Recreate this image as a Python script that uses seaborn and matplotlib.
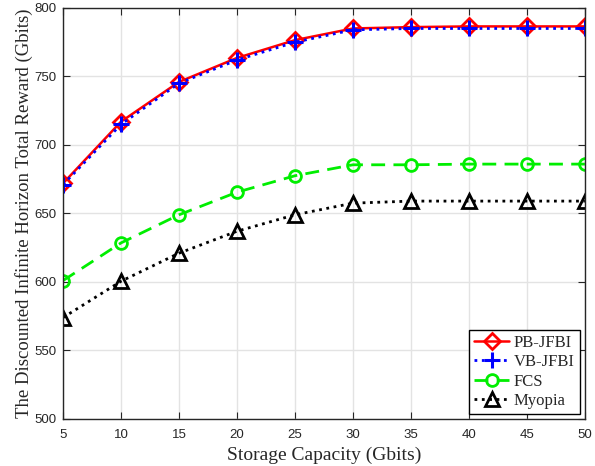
import matplotlib
matplotlib.use("Agg")
import matplotlib.pyplot as plt
import seaborn as sns
import pandas as pd

capacity = [5, 10, 15, 20, 25, 30, 35, 40, 45, 50]
pb_jfbi = [672, 717, 746, 763.5, 776.5, 785, 786, 786.5, 786.5, 786.5]
vb_jfbi = [671, 715, 745, 762, 775, 784, 785, 785, 785, 785]
fcs = [601, 628.5, 649, 665.5, 677.5, 685.5, 685.5, 686, 686, 686]
myopia = [574, 600.5, 621, 637, 649, 657.5, 659, 659, 659, 659]

series_names = ["PB-JFBI", "VB-JFBI", "FCS", "Myopia"]
series_vals = [pb_jfbi, vb_jfbi, fcs, myopia]

rows = []
for name, vals in zip(series_names, series_vals):
    for x, y in zip(capacity, vals):
        rows.append({"Capacity": x, "Reward": y, "Scheme": name})
df = pd.DataFrame(rows)

sns.set_style("whitegrid")
plt.rcParams["font.family"] = ["Liberation Sans", "DejaVu Sans"]

fig = plt.figure(figsize=(5.95, 4.66), dpi=100)
ax = fig.add_axes([0.106, 0.101, 0.877, 0.882])

styles = {
    "PB-JFBI": dict(color="#ff0000", ls="-", marker="D", ms=8, mfc="none", mew=2, lw=1.8),
    "VB-JFBI": dict(color="#0000ff", ls=":", marker="+", ms=11, mfc="none", mew=2.2, lw=2),
    "FCS": dict(color="#00ee00", ls=(0, (5, 3)), marker="o", ms=8.5, mfc="none", mew=2, lw=2),
    "Myopia": dict(color="black", ls=":", marker="^", ms=9.5, mfc="none", mew=2, lw=2),
}

for name in series_names:
    st = styles[name]
    sub = df[df["Scheme"] == name]
    sns.lineplot(data=sub, x="Capacity", y="Reward", ax=ax, color=st["color"],
                 linestyle=st["ls"], linewidth=st["lw"], marker=st["marker"],
                 markersize=st["ms"], markerfacecolor=st["mfc"],
                 markeredgecolor=st["color"], markeredgewidth=st["mew"],
                 label=name, errorbar=None)

ax.set_xlim(5, 50)
ax.set_ylim(500, 800)
ax.set_xticks(capacity)
ax.set_yticks([500, 550, 600, 650, 700, 750, 800])
ax.grid(True, color="#e3e3e3", linewidth=1)
for sp in ax.spines.values():
    sp.set_visible(True)
    sp.set_color("#262626")
    sp.set_linewidth(1)
ax.tick_params(axis="both", which="both", direction="in", length=5, width=0.8,
               top=True, right=True, bottom=True, left=True,
               labelsize=9.5, colors="#262626")
ax.tick_params(axis="x", pad=7)
ax.tick_params(axis="y", pad=5)

ax.set_xlabel("Storage Capacity (Gbits)", fontsize=14, family=["Liberation Serif"], labelpad=4)
ax.set_ylabel("The Discounted Infinite Horizon Total Reward (Gbits)", fontsize=13.5,
              family=["Liberation Serif"], labelpad=1)

leg = ax.legend(loc="lower right", frameon=True, fancybox=False, framealpha=1,
                edgecolor="black", prop={"family": "Liberation Serif", "size": 12},
                handlelength=2.1, borderaxespad=0.3, labelspacing=0.2,
                handletextpad=0.3, borderpad=0.3)
leg.get_frame().set_linewidth(1)

fig.savefig("out.png", dpi=100)
